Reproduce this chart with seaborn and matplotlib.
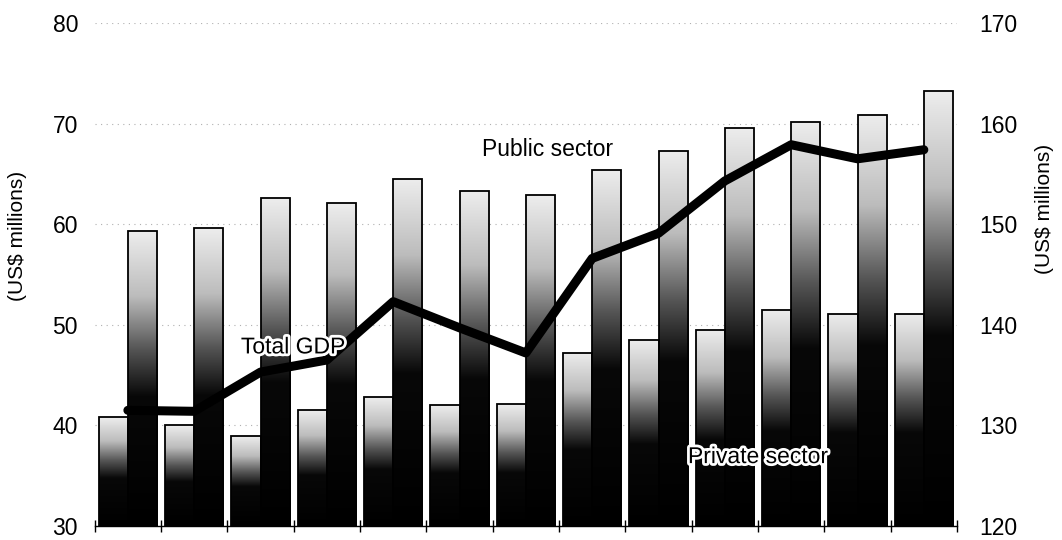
import matplotlib
matplotlib.use('Agg')
import matplotlib.pyplot as plt
import matplotlib.patheffects as pe
from matplotlib.colors import LinearSegmentedColormap
import numpy as np
import pandas as pd
import seaborn as sns

# data (13 periods, no x labels shown)
periods = ["1", "2", "3", "4", "5", "6", "7", "8", "9", "10", "11", "12", "13"]
private_sector = [40.8, 40.0, 38.9, 41.5, 42.8, 42.0, 42.1, 47.2, 48.5, 49.5, 51.5, 51.1, 51.1]
public_sector = [59.3, 59.6, 62.6, 62.1, 64.5, 63.3, 62.9, 65.4, 67.3, 69.6, 70.2, 70.9, 73.2]
total_gdp = [131.5, 131.4, 135.3, 136.5, 142.3, 139.7, 137.2, 146.6, 149.1, 154.3, 157.9, 156.5, 157.4]
left_ticks = [30, 40, 50, 60, 70, 80]
right_ticks = [120, 130, 140, 150, 160, 170]

sns.set_style("white")
plt.rcParams['font.family'] = ['Liberation Sans', 'DejaVu Sans']
plt.rcParams['text.color'] = 'black'
plt.rcParams['xtick.color'] = 'black'
plt.rcParams['ytick.color'] = 'black'

bars = pd.DataFrame({
    "period": periods * 2,
    "value": private_sector + public_sector,
    "sector": ["Private sector"] * len(periods) + ["Public sector"] * len(periods),
})
line = pd.DataFrame({"pos": range(len(periods)), "gdp": total_gdp})

fig = plt.figure(figsize=(10.62, 5.4), dpi=100)
fig.patch.set_facecolor("white")
ax = fig.add_axes([94.7 / 1062, 14 / 540, 862.3 / 1062, 503 / 540])

sns.barplot(data=bars, x="period", y="value", hue="sector", order=periods,
            palette=["white", "white"], width=0.88, edgecolor="black",
            linewidth=1.3, legend=False, ax=ax, zorder=3)

ax.set_xlim(-0.5, len(periods) - 0.5)
ax.set_ylim(30, 80)

# gray-to-black vertical gradient inside each bar
grad_cmap = LinearSegmentedColormap.from_list(
    "bar_grad", [(0, "#000000"), (0.44, "#080808"), (0.6, "#555555"),
                 (0.78, "#bcbcbc"), (1, "#ededed")])
grad = np.linspace(0, 1, 256).reshape(-1, 1)
for p in list(ax.patches):
    x0, w, top = p.get_x(), p.get_width(), p.get_y() + p.get_height()
    im = ax.imshow(grad, extent=[x0, x0 + w, 30, top], origin="lower",
                   cmap=grad_cmap, aspect="auto", zorder=2, interpolation="bilinear")
    im.set_clip_path(p)
    p.set_facecolor("none")
    p.set_zorder(3)
ax.set_xlim(-0.5, len(periods) - 0.5)
ax.set_ylim(30, 80)

# dotted horizontal grid
for v in left_ticks[1:]:
    ax.axhline(v, color="#b0b0b0", lw=0.8, ls=(0, (1, 4)), zorder=0)

ax.set_yticks(left_ticks)
ax.tick_params(axis="y", length=0, pad=12, labelsize=16.5, labelcolor="black")
ax.set_xticks([])
ax.set_xticks(np.arange(-0.5, len(periods)), minor=True)
ax.tick_params(axis="x", which="minor", bottom=True, direction="inout", length=8,
               width=1, color="black")
ax.set_xlabel("")
ax.set_ylabel("")
for s in ["top", "left", "right"]:
    ax.spines[s].set_visible(False)
ax.spines["bottom"].set_color("black")
ax.spines["bottom"].set_linewidth(1)

ax2 = ax.twinx()
sns.lineplot(data=line, x="pos", y="gdp", color="black", lw=6.5, ax=ax2,
             solid_capstyle="round", solid_joinstyle="round", zorder=5)
ax2.set_ylim(120, 170)
ax2.set_yticks(right_ticks)
ax2.tick_params(axis="y", length=0, pad=16, labelsize=16.5, labelcolor="black")
ax2.set_xlim(-0.5, len(periods) - 0.5)
ax2.set_xlabel("")
ax2.set_ylabel("")
for s in ["top", "left", "right", "bottom"]:
    ax2.spines[s].set_visible(False)

halo = [pe.withStroke(linewidth=4, foreground="white")]
ax2.text(6.33, 157.4, "Public sector", fontsize=16.5, ha="center", va="center", zorder=6)
ax2.text(2.49, 137.8, "Total GDP", fontsize=16.5, ha="center", va="center",
         path_effects=halo, zorder=7)
ax2.text(9.5, 126.9, "Private sector", fontsize=16.5, ha="center", va="center",
         path_effects=halo, zorder=7)

fig.text(18 / 1062, 1 - 236 / 540, "(US$ millions)", rotation=90, fontsize=15,
         ha="center", va="center")
fig.text(1045 / 1062, 1 - 209 / 540, "(US$ millions)", rotation=90, fontsize=15,
         ha="center", va="center")

fig.savefig("out.png", dpi=100, facecolor="white")
plt.close(fig)
